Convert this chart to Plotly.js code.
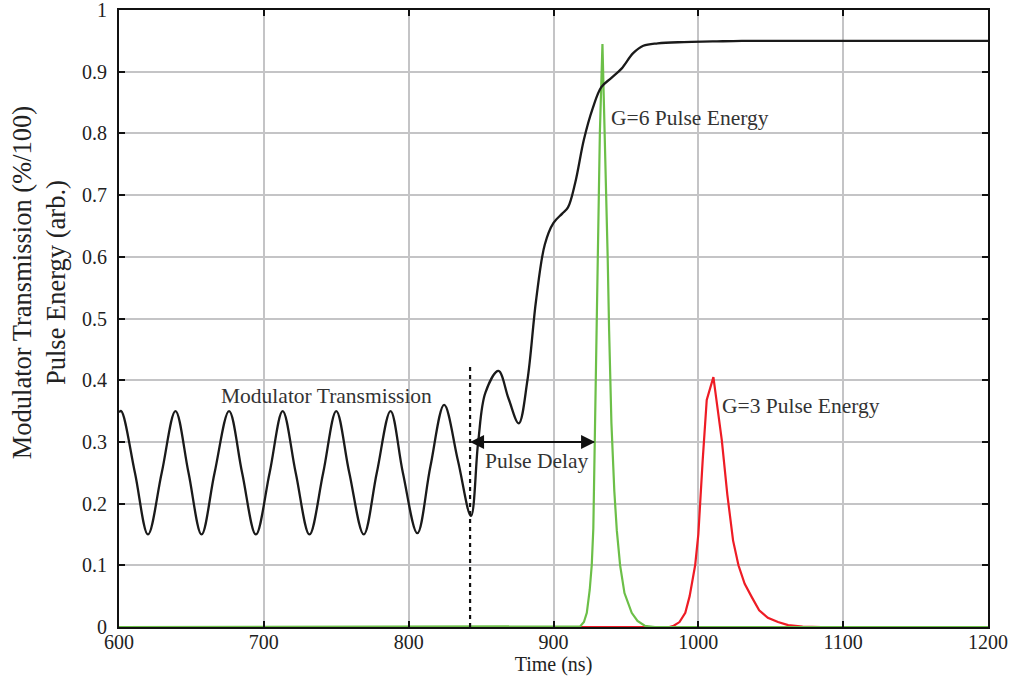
<!DOCTYPE html>
<html>
<head>
<meta charset="utf-8">
<script src="https://cdn.plot.ly/plotly-3.0.1.min.js"></script>
<style>html,body{margin:0;padding:0;background:#fff;}#chart{width:1029px;height:676px;}</style>
</head>
<body>
<div id="chart"></div>
<script>
// Modulator transmission (black curve)
const modTime = [600, 601.5, 611, 620, 629.5, 639, 648, 657, 666, 676, 685, 694.5, 704, 713, 722, 731.5, 741, 750, 759, 769, 778, 787.5, 796, 806, 815, 824.5, 834, 843, 848, 853, 862, 869, 876, 882, 888, 894, 900, 906, 910, 915, 921, 927, 933, 940, 947, 955, 962, 972, 990, 1010, 1030, 1060, 1100, 1150, 1200];
const modTrans = [0.348, 0.35, 0.25, 0.15, 0.25, 0.35, 0.25, 0.15, 0.25, 0.35, 0.25, 0.15, 0.25, 0.35, 0.25, 0.15, 0.25, 0.35, 0.25, 0.15, 0.25, 0.35, 0.25, 0.152, 0.26, 0.36, 0.27, 0.18, 0.3, 0.38, 0.415, 0.37, 0.33, 0.40, 0.53, 0.62, 0.655, 0.67, 0.68, 0.72, 0.79, 0.84, 0.875, 0.89, 0.905, 0.93, 0.942, 0.946, 0.948, 0.949, 0.95, 0.95, 0.95, 0.95, 0.95];

// G=6 pulse energy (green)
const g6Time = [600, 912, 918.4, 921, 923, 925, 926.4, 927.5, 928.5, 929.4, 930.2, 932, 933.8, 936, 937.4, 938.4, 940, 942, 943.7, 946, 949, 954, 958, 963, 970, 1200];
const g6Energy = [0, 0, 0.001, 0.008, 0.023, 0.06, 0.1, 0.16, 0.3, 0.48, 0.6, 0.8, 0.945, 0.75, 0.6, 0.48, 0.33, 0.22, 0.157, 0.1, 0.055, 0.023, 0.01, 0.002, 0, 0];

// G=3 pulse energy (red)
const g3Time = [600, 980, 983, 987, 991, 994, 997.8, 1000, 1003, 1005.8, 1010.4, 1013, 1016.2, 1020, 1024, 1027.7, 1032, 1037, 1042, 1048, 1055, 1062, 1072, 1085, 1200];
const g3Energy = [0, 0, 0.002, 0.008, 0.023, 0.05, 0.1, 0.15, 0.27, 0.368, 0.405, 0.36, 0.303, 0.215, 0.14, 0.1, 0.07, 0.048, 0.027, 0.015, 0.008, 0.003, 0.0005, 0, 0];

const xTicks = [600, 700, 800, 900, 1000, 1100, 1200];
const yTicks = [0, 0.1, 0.2, 0.3, 0.4, 0.5, 0.6, 0.7, 0.8, 0.9, 1];
const delayStart = 842.4, delayEnd = 928.7, delayLevel = 0.3, dottedTop = 0.425;

const serif = 'Liberation Serif, Times New Roman, serif';

const traces = [
  {x: g3Time, y: g3Energy, mode: 'lines', line: {color: '#ee1c25', width: 2.2}, hoverinfo: 'skip'},
  {x: g6Time, y: g6Energy, mode: 'lines', line: {color: '#6cbf48', width: 2.2}, hoverinfo: 'skip'},
  {x: modTime, y: modTrans, mode: 'lines', line: {color: '#1a1a1a', width: 2.3, shape: 'spline', smoothing: 1}, hoverinfo: 'skip'}
];

const axisCommon = {
  showgrid: true, gridcolor: '#c4c4c6', gridwidth: 2,
  showline: true, linecolor: '#111', linewidth: 2, mirror: 'ticks',
  ticks: 'inside', ticklen: 6, tickwidth: 2, tickcolor: '#111',
  zeroline: false, ticklabeloverflow: 'allow',
  tickfont: {family: serif, size: 20, color: '#222'}
};

const layout = {
  width: 1029, height: 676,
  margin: {l: 119, r: 41, t: 10, b: 49},
  paper_bgcolor: '#fff', plot_bgcolor: '#fff',
  showlegend: false,
  font: {family: serif, color: '#222'},
  xaxis: Object.assign({}, axisCommon, {
    range: [600, 1200], tickvals: xTicks, ticktext: xTicks.map(String), ticklabelstandoff: -4,
    title: {text: 'Time (ns)', font: {family: serif, size: 20, color: '#222'}, standoff: 0}
  }),
  yaxis: Object.assign({}, axisCommon, {
    range: [0, 1], tickvals: yTicks, ticktext: yTicks.map(String), ticklabelstandoff: 6
  }),
  shapes: [
    {type: 'line', xref: 'x', yref: 'y', x0: delayStart, x1: delayStart, y0: 0, y1: dottedTop,
     line: {color: '#111', width: 2.2, dash: '4px,4px'}}
  ],
  annotations: [
    {x: -0.0926, y: 0.558, xref: 'paper', yref: 'paper', textangle: -90, showarrow: false,
     xanchor: 'center', yanchor: 'middle',
     text: 'Modulator Transmission (%/100)<br>Pulse Energy (arb.)',
     font: {family: serif, size: 26.5, color: '#222'}},
    {x: delayStart, y: delayLevel, ax: delayEnd, ay: delayLevel, axref: 'x', ayref: 'y', xref: 'x', yref: 'y',
     showarrow: true, arrowhead: 2, arrowsize: 1.4, arrowwidth: 2, arrowcolor: '#111', text: ''},
    {x: delayEnd, y: delayLevel, ax: delayStart, ay: delayLevel, axref: 'x', ayref: 'y', xref: 'x', yref: 'y',
     showarrow: true, arrowhead: 2, arrowsize: 1.4, arrowwidth: 2, arrowcolor: '#111', text: ''},
    {x: 888.7, y: 0.269, xref: 'x', yref: 'y', text: 'Pulse Delay', showarrow: false,
     font: {family: serif, size: 21.5, color: '#333'}},
    {x: 743.6, y: 0.374, xref: 'x', yref: 'y', text: 'Modulator Transmission', showarrow: false,
     font: {family: serif, size: 21.5, color: '#333'}},
    {x: 994, y: 0.825, xref: 'x', yref: 'y', text: 'G=6 Pulse Energy', showarrow: false,
     font: {family: serif, size: 21.5, color: '#333'}},
    {x: 1071, y: 0.358, xref: 'x', yref: 'y', text: 'G=3 Pulse Energy', showarrow: false,
     font: {family: serif, size: 21.5, color: '#333'}}
  ]
};

Plotly.newPlot('chart', traces, layout, {staticPlot: true, displayModeBar: false});
</script>
</body>
</html>
